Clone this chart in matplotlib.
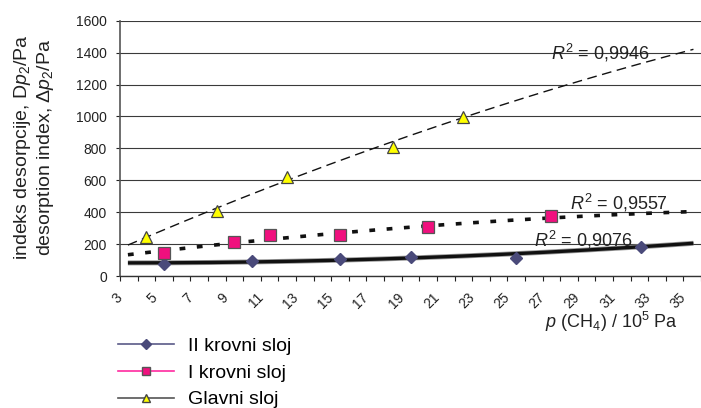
import numpy as np
import matplotlib
matplotlib.use("Agg")
import matplotlib.pyplot as plt
from matplotlib.lines import Line2D

plt.rcParams['font.family'] = ['Liberation Sans', 'DejaVu Sans']
plt.rcParams['mathtext.fontset'] = 'custom'
plt.rcParams['mathtext.rm'] = 'Liberation Sans'
plt.rcParams['mathtext.it'] = 'Liberation Sans:italic'
plt.rcParams['mathtext.sf'] = 'Liberation Sans'

# ---- data ----
labels = ["II krovni sloj", "I krovni sloj", "Glavni sloj"]

ii_x = [5.5, 10.5, 15.5, 19.5, 25.5, 32.6]
ii_y = [73, 94, 108, 117, 115, 183]

i_x = [5.5, 9.5, 11.5, 15.5, 20.5, 27.5]
i_y = [142, 210, 254, 254, 304, 375]

g_x = [4.5, 8.5, 12.5, 18.5, 22.5]
g_y = [245, 408, 620, 808, 996]

# points
tr_ii_x = [3.45, 11.1, 16.1, 25.5, 32.5, 35.57]
tr_ii_y = [83, 88, 100, 142, 183, 204]
tr_i_x = [3.45, 9.53, 15.9, 27.5, 29.7, 35.5]
tr_i_y = [135, 204, 275, 362, 381, 402]
tr_g_x = [3.45, 8.5, 12.5, 16.1, 22.55, 28.4, 35.57]
tr_g_y = [198, 423, 590, 756, 996, 1200, 1419]

r2_texts = ["$R^2$ = 0,9076", "$R^2$ = 0,9557", "$R^2$ = 0,9946"]
r2_pos_x = [32.1, 34.1, 33.1]
r2_pos_y = [225, 456, 1400]

xticks = list(range(3, 37))
xticklabels = [str(v) if v % 2 == 1 else "" for v in xticks]
yticks = [0, 200, 400, 600, 800, 1000, 1200, 1400, 1600]

# ---- figure ----
W, H = 701, 408
fig = plt.figure(figsize=(W / 100, H / 100), dpi=100)
ax = fig.add_axes([120 / W, 1 - 276 / H, 581 / W, (276 - 20.7) / H])
ax.set_xlim(3, 36)
ax.set_ylim(0, 1600)

for v in yticks:
    ax.axhline(v, color='#3a3a3a', lw=0.8, zorder=1)

def trend(xs, ys):
    c = np.polyfit(xs, ys, 2)
    xx = np.linspace(min(xs), max(xs), 300)
    return xx, np.polyval(c, xx)

xx, yy = trend(tr_ii_x, tr_ii_y)
ax.plot(xx, yy, color='#999999', lw=3.6, zorder=2, solid_capstyle='butt')
ax.plot(xx, yy, color='#111111', lw=2.4, zorder=3, solid_capstyle='butt')
xx, yy = trend(tr_i_x, tr_i_y)
ax.plot(xx, yy, color='#111111', lw=2.6, zorder=3, linestyle=(0, (1.6, 3.2)), dash_capstyle='butt')
xx, yy = trend(tr_g_x, tr_g_y)
ax.plot(xx, yy, color='#111111', lw=1.0, zorder=3, linestyle=(0, (7, 4)))

ax.plot(ii_x, ii_y, linestyle='none', marker='D', ms=6.5, mfc='#4a4a7a', mec='#4a4a7a', zorder=5)
ax.plot(i_x, i_y, linestyle='none', marker='s', ms=8, mfc='#f0107e', mec='#555555', mew=0.9, zorder=5)
ax.plot(g_x, g_y, linestyle='none', marker='^', ms=8, mfc='#ffff00', mec='#444444', mew=0.9, zorder=5)

for t, x, y in zip(r2_texts, r2_pos_x, r2_pos_y):
    ax.text(x, y, t, ha='right', va='center', fontsize=13, color='#222222', zorder=6)

for s in ['top', 'right']:
    ax.spines[s].set_visible(False)
ax.spines['left'].set_color('#555555')
ax.spines['left'].set_linewidth(1.2)
ax.spines['bottom'].set_color('#333333')
ax.spines['bottom'].set_linewidth(1.0)

ax.set_yticks(yticks)
ax.set_yticklabels([str(v) for v in yticks], fontsize=10)
ax.tick_params(axis='y', length=3, width=0.8, pad=6.5, colors='#222222')
ax.set_xticks(xticks)
ax.set_xticklabels(xticklabels, fontsize=10, rotation=45, ha='right', va='center',
                   rotation_mode='anchor')
ax.tick_params(axis='x', length=3.5, width=0.8, pad=10.5, colors='#222222')

fig.text(34 / W, 1 - 147 / H,
         "indeks desorpcije, D$\\mathit{p}_2$/Pa\ndesorption index, $\\mathit{\\Delta p}_2$/Pa",
         rotation=90, ha='center', va='center', multialignment='center',
         fontsize=14, linespacing=1.15, color='#222222')

fig.text(678 / W, 1 - 322 / H, "$\\mathit{p}$ (CH$_4$) / 10$^5$ Pa", ha='right', va='center',
         fontsize=13, color='#222222')

handles = [
    Line2D([], [], color='#5a5a88', lw=1.2, marker='D', ms=5, mfc='#4a4a7a', mec='#4a4a7a'),
    Line2D([], [], color='#ff2aa0', lw=1.2, marker='s', ms=5.5, mfc='#f0107e', mec='#555555'),
    Line2D([], [], color='#555555', lw=1.2, marker='^', ms=5.5, mfc='#ffff00', mec='#444444'),
]
fig.legend(handles, labels, loc='upper left', bbox_to_anchor=(118 / W, 1 - 337 / H),
           frameon=False, fontsize=14, handlelength=2.9, handletextpad=0.7,
           labelspacing=0.48, borderpad=0, borderaxespad=0)

fig.savefig("out.png", dpi=100)
